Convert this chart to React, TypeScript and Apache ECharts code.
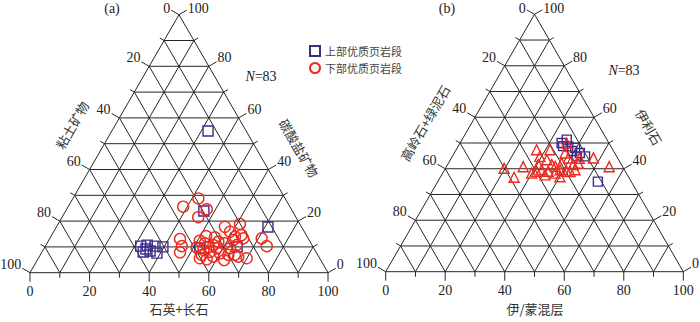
import React, { useEffect, useRef } from "react";
import * as echarts from "echarts";

// ---------- data ----------
// tick values along each side (every 10 %), labelled every 20 %
const TICK_VALUES = [0, 10, 20, 30, 40, 50, 60, 70, 80, 90, 100];
const BOTTOM_LABELS = ["0", "20", "40", "60", "80", "100"]; // left → right
const LEFT_LABELS = ["0", "20", "40", "60", "80", "100"]; // apex → bottom-left
const RIGHT_LABELS = ["100", "80", "60", "40", "20", "0"]; // apex → bottom-right

// axis names: [bottom, left, right]
const AXIS_NAMES_A = ["石英+长石", "粘土矿物", "碳酸盐矿物"];
const AXIS_NAMES_B = ["伊/蒙混层", "高岭石+绿泥石", "伊利石"];
const PANEL_TAGS = ["(a)", "(b)"];
const SAMPLE_COUNT = "83";
const SERIES_NAMES = ["上部优质页岩段", "下部优质页岩段"];

// (a) [石英+长石 %, 碳酸盐矿物 %]  (粘土矿物 = remainder)
const upperA = [
  [32.0, 10.3], [34.0, 8.0], [34.0, 10.7], [36.1, 8.4], [36.8, 10.3],
  [38.8, 7.6], [39.6, 10.0], [34.3, 9.2], [32.3, 54.9], [46.4, 23.9],
  [71.0, 17.7], [52.2, 9.6], [64.5, 10.0],
];
const lowerA = [
  [51.0, 9.8], [50.8, 12.4], [52.0, 14.2], [53.0, 11.4], [54.9, 9.8],
  [56.2, 10.7], [54.2, 6.9], [56.7, 5.2], [58.4, 6.2], [57.9, 9.5],
  [60.0, 7.5], [59.7, 11.4], [62.7, 4.9], [62.4, 9.5], [61.9, 12.7],
  [65.3, 6.9], [66.8, 6.2], [61.0, 18.9], [63.7, 14.6], [69.9, 5.6],
  [56.5, 17.8], [59.2, 15.9], [61.8, 14.0], [64.9, 13.3], [71.1, 13.3],
  [74.3, 10.3], [42.1, 28.8], [38.6, 25.6], [45.7, 21.5], [47.0, 24.6],
  [43.8, 13.1], [45.8, 10.3], [46.4, 7.9], [53.8, 8.8], [56.4, 8.1],
  [57.2, 12.0], [55.2, 13.7], [54.2, 5.6], [63.1, 6.9], [64.0, 10.7],
];

// (b) [伊/蒙混层 %, 伊利石 %]  (高岭石+绿泥石 = remainder)
const upperB = [
  [34.1, 50.0], [35.2, 51.3], [37.0, 48.7], [39.6, 48.1], [42.2, 46.1],
  [44.6, 44.8], [41.8, 44.8], [53.8, 35.0], [39.2, 46.9], [35.2, 48.8],
];
const lowerB = [
  [19.7, 40.2], [24.8, 36.7], [25.8, 40.8], [27.0, 47.4], [31.5, 47.4],
  [29.4, 44.8], [32.4, 43.5], [35.0, 41.6], [30.5, 41.6], [32.6, 39.6],
  [35.1, 39.0], [37.8, 38.3], [38.8, 39.6], [37.2, 46.1], [35.8, 50.0],
  [38.0, 42.2], [39.3, 44.2], [42.2, 41.6], [43.8, 39.6], [43.6, 42.2],
  [47.7, 44.2], [41.3, 39.0], [36.5, 40.9], [29.9, 38.3], [54.7, 40.8],
  [43.0, 44.1], [42.5, 38.9], [34.7, 37.6], [31.3, 38.9], [40.1, 36.9],
];

// ---------- helpers ----------
const PURPLE = "#3e2c8c";
const RED = "#ee2a1e";
const LINE = "#262626";
const SERIF = '"Liberation Serif", "Times New Roman", serif';
const CJK = '"Noto Sans CJK SC", sans-serif';

// ternary (bottom component, top component) -> cartesian in data units
const toXY = (p: number[]) => [p[0] + p[1] / 2, p[1]];

function buildGridLines() {
  const out: number[][] = [];
  for (const v of TICK_VALUES) {
    if (v === 100) continue;
    out.push([v / 2, v, 100 - v / 2, v]); // constant top component
    out.push([v, 0, v + (100 - v) / 2, 100 - v]); // constant bottom component
    out.push([100 - v, 0, (100 - v) / 2, 100 - v]); // constant left component
  }
  return out;
}

type Tick = { pos: number[]; side: "b" | "l" | "r"; major: boolean; label: string | null };
function buildTicks(): Tick[] {
  const out: Tick[] = [];
  for (const v of TICK_VALUES) {
    const major = v % 20 === 0;
    const li = v / 20;
    out.push({ pos: [v, 0], side: "b", major, label: major ? BOTTOM_LABELS[li] : null });
    out.push({ pos: [(100 - v) / 2, 100 - v], side: "l", major, label: major ? LEFT_LABELS[li] : null });
    out.push({ pos: [v + (100 - v) / 2, 100 - v], side: "r", major, label: major ? RIGHT_LABELS[li] : null });
  }
  return out;
}

const GRID_LINES = buildGridLines();
const TICKS = buildTicks();

function gridSeries(idx: number) {
  return {
    type: "custom",
    xAxisIndex: idx,
    yAxisIndex: idx,
    silent: true,
    z: 1,
    data: GRID_LINES,
    renderItem: (_p: any, api: any) => {
      const a = api.coord([api.value(0), api.value(1)]);
      const b = api.coord([api.value(2), api.value(3)]);
      return {
        type: "line",
        shape: { x1: a[0], y1: a[1], x2: b[0], y2: b[1] },
        style: { stroke: LINE, lineWidth: 1 },
      };
    },
  };
}

function tickSeries(idx: number) {
  return {
    type: "custom",
    xAxisIndex: idx,
    yAxisIndex: idx,
    silent: true,
    z: 1,
    data: TICKS.map((t) => t.pos),
    renderItem: (params: any, api: any) => {
      const t = TICKS[params.dataIndex];
      const p = api.coord([api.value(0), api.value(1)]);
      const len = t.major ? 9 : 5;
      let dx = 0, dy = 1;
      if (t.side === "l") { dx = -0.866; dy = -0.5; }
      if (t.side === "r") { dx = 0.866; dy = -0.5; }
      const ex = p[0] + dx * len;
      const ey = p[1] + dy * len;
      const children: any[] = [
        { type: "line", shape: { x1: p[0], y1: p[1], x2: ex, y2: ey }, style: { stroke: LINE, lineWidth: 1 } },
      ];
      if (t.label) {
        let tx = ex, ty = ey + 10, align = "center";
        if (t.side === "l") { tx = ex - 1; ty = Math.max(ey - 4, 8); align = "right"; }
        if (t.side === "r") { tx = ex + 1; ty = Math.max(ey - 4, 8); align = "left"; }
        children.push({
          type: "text",
          x: tx,
          y: ty,
          style: { text: t.label, fill: "#222", fontSize: 14, fontFamily: SERIF, align, verticalAlign: "middle" },
        });
      }
      return { type: "group", children };
    },
  };
}

function scatter(idx: number, name: string, data: number[][], symbol: string, size: number, color: string) {
  return {
    type: "scatter",
    name,
    xAxisIndex: idx,
    yAxisIndex: idx,
    z: 3,
    symbol,
    symbolSize: size,
    data: data.map(toXY),
    itemStyle: { color: "rgba(0,0,0,0)", borderColor: color, borderWidth: 1.4, opacity: 1 },
  };
}

function title(text: string, x: number, y: number, rotation = 0, size = 13) {
  return {
    type: "text",
    x,
    y,
    rotation,
    silent: true,
    style: { text, fill: "#333", fontSize: size, fontFamily: CJK, align: "center", verticalAlign: "middle" },
  };
}

function serifText(text: string, x: number, y: number) {
  return {
    type: "text",
    x,
    y,
    silent: true,
    style: {
      text,
      fill: "#222",
      fontSize: 14,
      fontFamily: SERIF,
      align: "center",
      verticalAlign: "middle",
      rich: { i: { fontStyle: "italic", fontSize: 14, fontFamily: SERIF, fill: "#222" } },
    },
  };
}

export default function App() {
  const ref = useRef<HTMLDivElement>(null);
  useEffect(() => {
    document.body.style.margin = "0";
    if (!ref.current) return;
    const chart = echarts.init(ref.current, undefined, { renderer: "svg" });
    const option: any = {
      animation: false,
      backgroundColor: "#fff",
      grid: [
        { left: 30, top: 14.7, width: 298, height: 258 },
        { left: 385.7, top: 14.3, width: 297.6, height: 257.4 },
      ],
      xAxis: [0, 1].map((i) => ({ gridIndex: i, type: "value", min: 0, max: 100, show: false })),
      yAxis: [0, 1].map((i) => ({ gridIndex: i, type: "value", min: 0, max: 100, show: false })),
      legend: {
        data: SERIES_NAMES,
        orient: "vertical",
        left: 309,
        top: 45,
        padding: 0,
        itemWidth: 10,
        itemHeight: 10,
        itemGap: 5,
        textStyle: { fontSize: 11, color: "#444", fontFamily: CJK },
      },
      graphic: [
        serifText(PANEL_TAGS[0], 112, 8),
        serifText(PANEL_TAGS[1], 447, 8),
        serifText(`{i|N}=${SAMPLE_COUNT}`, 261, 76),
        serifText(`{i|N}=${SAMPLE_COUNT}`, 624, 70),
        title(AXIS_NAMES_A[0], 179, 308),
        title(AXIS_NAMES_A[1], 72, 125, Math.PI / 3),
        title(AXIS_NAMES_A[2], 299, 148, -Math.PI / 3),
        title(AXIS_NAMES_B[0], 535, 308),
        title(AXIS_NAMES_B[1], 425, 123, Math.PI / 3),
        title(AXIS_NAMES_B[2], 649, 127, -Math.PI / 3),
      ],
      series: [
        gridSeries(0),
        tickSeries(0),
        scatter(0, SERIES_NAMES[0], upperA, "rect", 10, PURPLE),
        scatter(0, SERIES_NAMES[1], lowerA, "circle", 11, RED),
        gridSeries(1),
        tickSeries(1),
        scatter(1, SERIES_NAMES[0], upperB, "rect", 9, PURPLE),
        scatter(1, SERIES_NAMES[1], lowerB, "triangle", 10, RED),
      ],
    };
    chart.setOption(option);
    return () => chart.dispose();
  }, []);
  return <div ref={ref} style={{ width: 700, height: 322 }} />;
}
